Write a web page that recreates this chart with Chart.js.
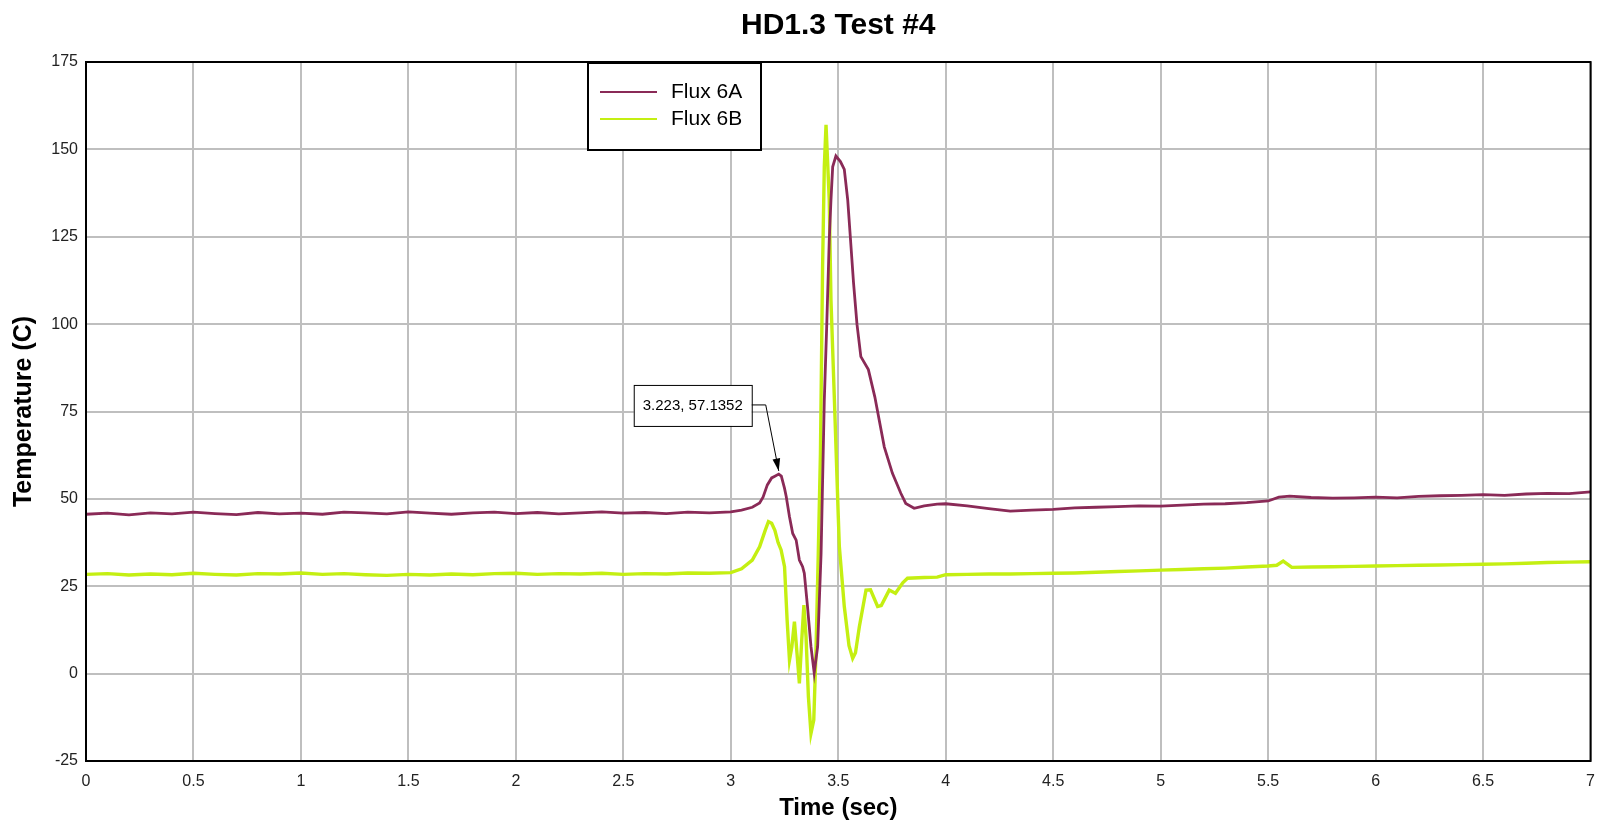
<!DOCTYPE html>
<html>
<head>
<meta charset="utf-8">
<title>HD1.3 Test #4</title>
<script src="https://cdn.jsdelivr.net/npm/chart.js@4.4.1/dist/chart.umd.min.js"></script>
<style>
  html, body { margin: 0; padding: 0; background: #fff; }
</style>
</head>
<body>
<canvas id="fluxChart" width="1606" height="828"></canvas>
<script>
// values (time in sec, temperature in C)
const timeA = [0, 0.1, 0.2, 0.3, 0.4, 0.5, 0.6, 0.7, 0.8, 0.9, 1.0, 1.1, 1.2, 1.3, 1.4, 1.5, 1.6, 1.7, 1.8, 1.9,
  2.0, 2.1, 2.2, 2.3, 2.4, 2.5, 2.6, 2.7, 2.8, 2.9,
  3.0, 3.05, 3.1, 3.134, 3.15, 3.17, 3.19, 3.205, 3.223, 3.235, 3.25, 3.258, 3.273, 3.288, 3.304, 3.319, 3.334,
  3.342, 3.357, 3.373, 3.388, 3.404, 3.42, 3.435, 3.447, 3.458, 3.466, 3.474, 3.489, 3.51, 3.528, 3.544, 3.556,
  3.571, 3.587, 3.605, 3.64, 3.67, 3.714, 3.752, 3.791, 3.814, 3.853, 3.9, 3.96, 4.0,
  4.1, 4.2, 4.3, 4.4, 4.5, 4.6, 4.7, 4.8, 4.9, 5.0, 5.1, 5.2, 5.3, 5.4, 5.5, 5.55, 5.6, 5.7, 5.8, 5.9,
  6.0, 6.1, 6.2, 6.3, 6.4, 6.5, 6.6, 6.7, 6.8, 6.9, 7.0];
const fluxA = [45.6, 45.9, 45.4, 46.0, 45.7, 46.2, 45.8, 45.5, 46.1, 45.7, 45.9, 45.6, 46.2, 46.0, 45.7, 46.3, 45.9, 45.6, 46.0, 46.2,
  45.8, 46.1, 45.7, 46.0, 46.3, 45.9, 46.1, 45.8, 46.2, 46.0,
  46.3, 46.8, 47.6, 48.8, 50.5, 54, 56, 56.5, 57.1, 56.5, 53, 50.6, 44.9, 40.1, 38.2, 32.5, 30.6,
  28.7, 19.1, 7.7, 0.2, 7.7, 34.4, 78.3, 101, 124, 135.5, 145, 148.1, 146.5, 144.3, 135.5, 125,
  111.8, 100, 90.7, 87, 79.2, 64.9, 57.3, 51.6, 48.7, 47.3, 48.0, 48.5, 48.6,
  48.0, 47.2, 46.5, 46.8, 47.0, 47.4, 47.6, 47.8, 48.0, 47.9, 48.2, 48.5, 48.6, 48.9, 49.4, 50.5, 50.8, 50.4, 50.2, 50.3,
  50.5, 50.3, 50.7, 50.9, 51.0, 51.2, 51.0, 51.4, 51.6, 51.5, 52.0];

const timeB = [0, 0.1, 0.2, 0.3, 0.4, 0.5, 0.6, 0.7, 0.8, 0.9, 1.0, 1.1, 1.2, 1.3, 1.4, 1.5, 1.6, 1.7, 1.8, 1.9,
  2.0, 2.1, 2.2, 2.3, 2.4, 2.5, 2.6, 2.7, 2.8, 2.9,
  3.0, 3.05, 3.1, 3.134, 3.16, 3.175, 3.19, 3.205, 3.22, 3.234, 3.25, 3.262, 3.273, 3.284, 3.296, 3.308, 3.319,
  3.33, 3.34, 3.35, 3.361, 3.373, 3.386, 3.396, 3.407, 3.417, 3.427, 3.435, 3.443, 3.458, 3.466, 3.482, 3.5,
  3.505, 3.528, 3.55, 3.567, 3.58, 3.598, 3.629, 3.65, 3.683, 3.7, 3.737, 3.766, 3.8, 3.822, 3.9, 3.96, 4.0,
  4.1, 4.2, 4.3, 4.4, 4.5, 4.6, 4.7, 4.8, 4.9, 5.0, 5.1, 5.2, 5.3, 5.4, 5.5, 5.54, 5.57, 5.61, 5.7, 5.8, 5.9,
  6.0, 6.1, 6.2, 6.3, 6.4, 6.5, 6.6, 6.7, 6.8, 6.9, 7.0];
const fluxB = [28.4, 28.6, 28.2, 28.5, 28.3, 28.7, 28.4, 28.2, 28.6, 28.5, 28.8, 28.4, 28.6, 28.3, 28.1, 28.4, 28.2, 28.5, 28.3, 28.6,
  28.7, 28.4, 28.6, 28.5, 28.7, 28.4, 28.6, 28.5, 28.8, 28.7,
  28.9, 30, 32.5, 36.3, 41, 43.5, 43, 41, 37.5, 35.4, 30.6, 15.3, 3.9, 7.7, 14.9, 5.8, -2.8,
  9.6, 19.6, 10.6, -6.6, -17.1, -13.3, 5.8, 34.4, 63, 116.4, 145, 157, 135.5, 106.9, 78.3, 45,
  36.3, 19.2, 8, 4.4, 6, 13.4, 23.9, 24, 19.2, 19.5, 23.9, 23, 26, 27.3, 27.5, 27.6, 28.3,
  28.4, 28.5, 28.5, 28.6, 28.7, 28.8, 29.0, 29.2, 29.4, 29.6, 29.8, 30.0, 30.2, 30.5, 30.8, 31.0, 32.2, 30.4, 30.5, 30.6, 30.7,
  30.8, 30.9, 31.0, 31.1, 31.2, 31.3, 31.4, 31.6, 31.8, 31.9, 32.0];

const seriesNames = ["Flux 6A", "Flux 6B"];
const yTicks = [-25, 0, 25, 50, 75, 100, 125, 150, 175];

// hover readout shown on the plot
const annotX = 3.223;
const annotY = 57.1352;
const annotText = "3.223, 57.1352";

const colA = "#8a2a57";
const colB = "#c4ef12";
const fontFam = "'Liberation Sans', Arial, sans-serif";

function pairs(xs, ys) {
  return xs.map((x, i) => ({ x: x, y: ys[i] }));
}

const overlay = {
  id: "overlay",
  afterDatasetsDraw(chart) {
    const ctx = chart.ctx;
    const a = chart.chartArea;
    ctx.save();

    // plot frame
    ctx.strokeStyle = "#000";
    ctx.lineWidth = 2;
    ctx.strokeRect(a.left, a.top, a.right - a.left, a.bottom - a.top);

    // readout box + arrow
    const px = chart.scales.x.getPixelForValue(annotX);
    const py = chart.scales.y.getPixelForValue(annotY);
    const bx = px - 145, by = py - 89, bw = 118, bh = 41;
    ctx.fillStyle = "#fff";
    ctx.fillRect(bx, by, bw, bh);
    ctx.lineWidth = 1;
    ctx.strokeStyle = "#000";
    ctx.strokeRect(bx + 0.5, by + 0.5, bw, bh);
    ctx.fillStyle = "#000";
    ctx.font = "15px " + fontFam;
    ctx.textAlign = "center";
    ctx.textBaseline = "middle";
    ctx.fillText(annotText, bx + bw / 2, by + bh / 2);
    const cy = by + 20;
    const tipX = px, tipY = py - 3;
    ctx.beginPath();
    ctx.moveTo(bx + bw, cy);
    ctx.lineTo(px - 13, cy);
    ctx.lineTo(tipX, tipY);
    ctx.stroke();
    const ang = Math.atan2(tipY - cy, tipX - (px - 13));
    ctx.beginPath();
    ctx.moveTo(tipX, tipY);
    ctx.lineTo(tipX - 13 * Math.cos(ang - 0.3), tipY - 13 * Math.sin(ang - 0.3));
    ctx.lineTo(tipX - 13 * Math.cos(ang + 0.3), tipY - 13 * Math.sin(ang + 0.3));
    ctx.closePath();
    ctx.fill();

    // legend box
    const lx = a.left + 502, ly = a.top + 1, lw = 173, lh = 87;
    ctx.fillStyle = "#fff";
    ctx.fillRect(lx, ly, lw, lh);
    ctx.lineWidth = 2;
    ctx.strokeRect(lx, ly, lw, lh);
    ctx.font = "21px " + fontFam;
    ctx.textAlign = "left";
    chart.data.datasets.forEach((ds, i) => {
      const yy = ly + 29 + i * 27;
      ctx.strokeStyle = ds.borderColor;
      ctx.lineWidth = 2;
      ctx.beginPath();
      ctx.moveTo(lx + 12, yy);
      ctx.lineTo(lx + 69, yy);
      ctx.stroke();
      ctx.fillStyle = "#000";
      ctx.fillText(ds.label, lx + 83, yy);
    });
    ctx.restore();
  }
};

new Chart(document.getElementById("fluxChart").getContext("2d"), {
  type: "line",
  data: {
    datasets: [
      { label: seriesNames[0], data: pairs(timeA, fluxA), borderColor: colA, borderWidth: 2.8,
        pointRadius: 0, tension: 0, fill: false },
      { label: seriesNames[1], data: pairs(timeB, fluxB), borderColor: colB, borderWidth: 3.4,
        pointRadius: 0, tension: 0, fill: false }
    ]
  },
  options: {
    responsive: false,
    animation: false,
    events: [],
    layout: { padding: { left: 8, right: 11, top: 8, bottom: 8 } },
    plugins: {
      legend: { display: false },
      tooltip: { enabled: false },
      title: {
        display: true,
        fullSize: false,
        text: "HD1.3 Test #4",
        color: "#000",
        font: { family: fontFam, size: 30, weight: "bold" },
        padding: { top: 0, bottom: 18 }
      }
    },
    scales: {
      x: {
        type: "linear",
        min: 0,
        max: 7,
        afterFit(s) { s.height = 59; },
        ticks: {
          stepSize: 0.5,
          padding: 11,
          color: "#222",
          maxRotation: 0,
          font: { family: fontFam, size: 16 },
          callback: v => String(+v.toFixed(2))
        },
        grid: { color: "#bfbfbf", lineWidth: 2, drawTicks: false },
        border: { display: false },
        title: {
          display: true,
          text: "Time (sec)",
          color: "#000",
          font: { family: fontFam, size: 24, weight: "bold", lineHeight: 1 },
          padding: { top: 0, bottom: 0 }
        }
      },
      y: {
        min: yTicks[0],
        max: yTicks[yTicks.length - 1],
        afterFit(s) { s.width = 78; },
        afterBuildTicks(s) { s.ticks = yTicks.map(v => ({ value: v })); },
        ticks: {
          padding: 8,
          color: "#222",
          font: { family: fontFam, size: 16 }
        },
        grid: { color: "#bfbfbf", lineWidth: 2, drawTicks: false },
        border: { display: false },
        title: {
          display: true,
          text: "Temperature (C)",
          color: "#000",
          font: { family: fontFam, size: 25, weight: "bold", lineHeight: 1 },
          padding: { top: 4, bottom: 0 }
        }
      }
    }
  },
  plugins: [overlay]
});
</script>
</body>
</html>
